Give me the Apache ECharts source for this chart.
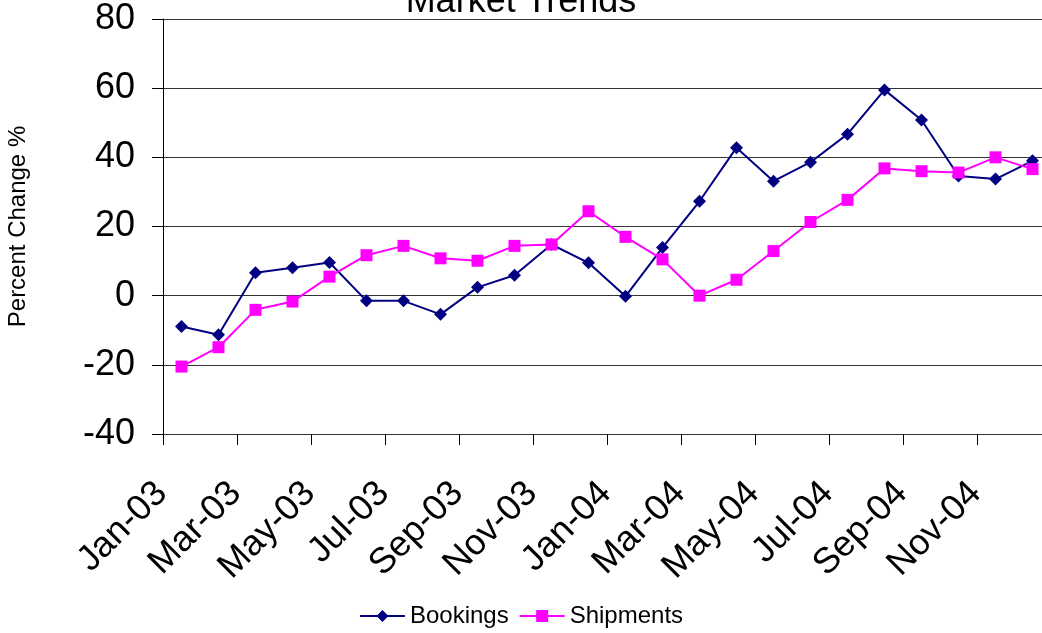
<!DOCTYPE html>
<html>
<head>
<meta charset="utf-8">
<script src="https://cdn.jsdelivr.net/npm/echarts@6/dist/echarts.min.js"></script>
<style>
html,body{margin:0;padding:0;background:#fff;}
#chart{width:1042px;height:633px;}
</style>
</head>
<body>
<div id="chart"></div>
<script>
const categories = ['Jan-03','Feb-03','Mar-03','Apr-03','May-03','Jun-03','Jul-03','Aug-03','Sep-03','Oct-03','Nov-03','Dec-03',
  'Jan-04','Feb-04','Mar-04','Apr-04','May-04','Jun-04','Jul-04','Aug-04','Sep-04','Oct-04','Nov-04','Dec-04'];
const bookings = [-8.9,-11.3,6.6,8.1,9.6,-1.5,-1.5,-5.4,2.4,5.9,14.8,9.5,
  -0.2,13.9,27.3,42.8,33.1,38.6,46.7,59.5,50.8,34.6,33.7,39.0];
const shipments = [-20.5,-14.9,-4.1,-1.7,5.5,11.7,14.4,10.8,10.1,14.4,14.8,24.4,
  17.0,10.5,0.0,4.6,12.9,21.3,27.7,36.8,36.0,35.6,40.0,36.6];
const yTicks = { min: -40, max: 80, interval: 20 };

const FONT = '"Liberation Sans", Arial, sans-serif';
const chart = echarts.init(document.getElementById('chart'));
chart.setOption({
  backgroundColor: '#ffffff',
  animation: false,
  title: {
    text: 'Market Trends',
    left: 'center',
    top: -21,
    textStyle: { fontFamily: FONT, fontSize: 36, fontWeight: 'normal', color: '#000' }
  },
  legend: {
    bottom: 0,
    left: 'center',
    itemWidth: 45,
    itemHeight: 15,
    itemGap: 10,
    lineStyle: { width: 2 },
    textStyle: { fontFamily: FONT, fontSize: 24, color: '#000' },
    data: ['Bookings', 'Shipments']
  },
  grid: { left: 163, right: -9, top: 19, bottom: 199, containLabel: false, outerBoundsMode: 'none' },
  xAxis: {
    type: 'category',
    data: categories,
    boundaryGap: true,
    axisLine: { onZero: false, lineStyle: { color: '#333', width: 1 } },
    axisTick: { show: true, interval: 1, length: 11, lineStyle: { color: '#000' } },
    axisLabel: {
      interval: 1, rotate: 45, margin: 34, padding: [0, 28, 0, 0],
      fontFamily: FONT, fontSize: 36, color: '#000'
    },
    splitLine: { show: false }
  },
  yAxis: {
    type: 'value',
    min: yTicks.min, max: yTicks.max, interval: yTicks.interval,
    name: 'Percent Change %',
    nameLocation: 'middle',
    nameRotate: 90,
    nameGap: 133,
    nameTextStyle: { fontFamily: FONT, fontSize: 24, color: '#000' },
    axisLine: { show: true, lineStyle: { color: '#000', width: 1 } },
    axisTick: { show: true, length: 11, lineStyle: { color: '#000' } },
    axisLabel: { margin: 28, fontFamily: FONT, fontSize: 36, color: '#000' },
    splitLine: { show: true, lineStyle: { color: '#333', width: 1 } }
  },
  series: [
    {
      name: 'Bookings', type: 'line', data: bookings,
      symbol: 'diamond', symbolSize: 13,
      lineStyle: { color: '#000080', width: 2 },
      itemStyle: { color: '#000080' }
    },
    {
      name: 'Shipments', type: 'line', data: shipments,
      symbol: 'rect', symbolSize: 12,
      lineStyle: { color: '#FF00FF', width: 2 },
      itemStyle: { color: '#FF00FF' }
    }
  ]
});
</script>
</body>
</html>
